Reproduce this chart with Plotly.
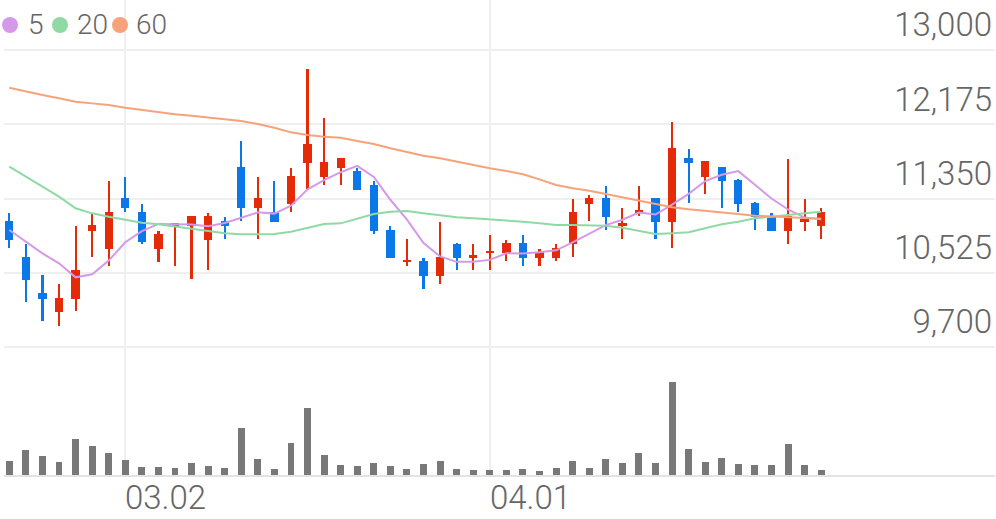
import plotly.graph_objects as go

# ---------------- data ----------------
idx = list(range(50))
open_ = [11100, 10700, 10300, 10090, 10230, 10990, 10790, 11360, 11200, 10790,
         11050, 11050, 10890, 11100, 11700, 11250, 11200, 11290, 11750, 11590,
         11690, 11660, 11500, 11000, 10640, 10660, 10490, 10850, 10690, 10740,
         10750, 10860, 10690, 10690, 10850, 11290, 11360, 11050, 11190, 11360,
         11090, 11800, 11590, 11700, 11560, 11300, 11160, 10990, 11090, 11050]
high = [11190, 10850, 10500, 10400, 11050, 11190, 11550, 11590, 11290, 10990,
        11060, 11160, 11190, 11150, 11990, 11590, 11550, 11690, 12790, 12250,
        11800, 11690, 11550, 11050, 10900, 10690, 11090, 10860, 10850, 10950,
        10890, 10950, 10790, 10850, 11350, 11390, 11490, 11250, 11490, 11360,
        12200, 11900, 11770, 11700, 11570, 11310, 11190, 11790, 11350, 11250]
low = [10800, 10200, 9990, 9930, 10100, 10700, 10600, 11200, 10850, 10650,
       10600, 10460, 10560, 10900, 11100, 10900, 11090, 11200, 11460, 11500,
       11500, 11440, 10960, 10690, 10600, 10350, 10400, 10560, 10560, 10560,
       10660, 10600, 10600, 10660, 10700, 11100, 11000, 10900, 11160, 10900,
       10800, 11300, 11400, 11250, 11200, 11000, 10990, 10850, 10990, 10900]
close = [10890, 10440, 10230, 10250, 10560, 11060, 11200, 11250, 10870, 10960,
         11060, 11160, 11160, 11050, 11250, 11360, 11090, 11600, 11960, 11760,
         11800, 11440, 10990, 10690, 10660, 10490, 10700, 10690, 10700, 10760,
         10860, 10690, 10760, 10800, 11200, 11360, 11150, 11060, 11200, 11090,
         11910, 11750, 11770, 11550, 11290, 11150, 10990, 11160, 11100, 11200]
volume = [140, 253, 190, 130, 360, 293, 220, 150, 77, 77,
          70, 117, 90, 73, 473, 163, 63, 320, 670, 197,
          103, 87, 123, 87, 60, 107, 143, 60, 47, 47,
          47, 57, 40, 70, 137, 73, 160, 120, 223, 123,
          927, 257, 130, 167, 113, 100, 103, 307, 103, 53]
ma5 = [11000, 10870, 10740, 10630, 10474, 10508, 10660, 10864, 10988, 11068,
       11068, 11060, 11042, 11078, 11136, 11196, 11182, 11270, 11452, 11554,
       11642, 11712, 11590, 11336, 11116, 10854, 10706, 10646, 10648, 10668,
       10742, 10740, 10754, 10774, 10862, 10962, 11054, 11114, 11194, 11172,
       11282, 11402, 11544, 11614, 11654, 11502, 11350, 11228, 11138, 11120]
ma20 = [11703, 11592, 11481, 11370, 11241, 11185, 11148, 11111, 11081, 11063,
        11037, 11019, 10992, 10963, 10952, 10952, 10956, 10981, 11026, 11067,
        11074, 11130, 11178, 11203, 11211, 11185, 11163, 11141, 11130, 11119,
        11111, 11092, 11074, 11056, 11056, 11056, 11048, 11026, 10989, 10956,
        10963, 10974, 11019, 11063, 11092, 11130, 11148, 11163, 11185, 11203]
ma60 = [12581, 12537, 12500, 12463, 12426, 12407, 12389, 12359, 12333, 12304,
        12285, 12270, 12252, 12233, 12211, 12178, 12137, 12085, 12056, 12037,
        12026, 11989, 11956, 11908, 11863, 11826, 11797, 11759, 11722, 11686,
        11656, 11619, 11563, 11500, 11463, 11437, 11400, 11363, 11326, 11289,
        11252, 11230, 11215, 11197, 11178, 11159, 11148, 11141, 11133, 11126]
price_ticks = [9700, 10525, 11350, 12175, 13000]
price_tick_text = ["9,700", "10,525", "11,350", "12,175", "13,000"]
date_tick_idx = [7, 29]
date_tick_text = ["03.02", "04.01"]
ma_names = ["5", "20", "60"]

# ---------------- styles ----------------
UP = "#e42a06"
DOWN = "#0a78e8"
MA_COLORS = ["#d699ea", "#8fdaa4", "#f6a27b"]
GRID = "#efefef"
TXT = "#666666"
FONT = "Roboto"

colors = [UP if c >= o else DOWN for o, c in zip(open_, close)]
body_base = [min(o, c) for o, c in zip(open_, close)]
body_h = [max(abs(c - o), 30) for o, c in zip(open_, close)]
wick_h = [h - l for h, l in zip(high, low)]

fig = go.Figure()

# volume (secondary axis)
fig.add_trace(go.Bar(x=idx, y=volume, marker=dict(color="#787878", line_width=0),
                     width=0.42, yaxis="y2", hoverinfo="skip"))
# wicks
fig.add_trace(go.Bar(x=idx, y=wick_h, base=low, width=0.13,
                     marker=dict(color=colors, line_width=0), hoverinfo="skip"))
# bodies
fig.add_trace(go.Bar(x=idx, y=body_h, base=body_base, width=0.5,
                     marker=dict(color=colors, line_width=0), hoverinfo="skip"))
# moving averages
for name, vals, col in zip(ma_names, [ma5, ma20, ma60], MA_COLORS):
    fig.add_trace(go.Scatter(x=idx, y=vals, mode="lines", name=name,
                             line=dict(color=col, width=2), hoverinfo="skip"))

fig.update_layout(
    width=996, height=519,
    margin=dict(l=4, r=1, t=0, b=44),
    paper_bgcolor="white", plot_bgcolor="white",
    showlegend=False, barmode="overlay", bargap=0,
    font=dict(family=FONT, color=TXT),
    xaxis=dict(range=[-0.32, 59.49], tickvals=date_tick_idx, showticklabels=False,
               showgrid=True, gridcolor=GRID, gridwidth=2, zeroline=False,
               showline=True, linecolor="#e3e3e3", linewidth=2, ticks=""),
    yaxis=dict(range=[8277.8, 13555.6], side="right", tickvals=price_ticks,
               ticktext=price_tick_text, ticklabelposition="inside top",
               ticklabelshift=-2, ticklabelstandoff=0,
               tickfont=dict(size=33, color=TXT, family=FONT, weight=300),
               showgrid=True, gridcolor=GRID, gridwidth=2, zeroline=False, ticks=""),
    yaxis2=dict(range=[0, 4750], overlaying="y", visible=False, showgrid=False),
)

# date labels, left-aligned on their gridlines
for xi, t in zip(date_tick_idx, date_tick_text):
    fig.add_annotation(x=xi, xref="x", y=0, yref="paper", text=t, showarrow=False,
                       xanchor="left", yanchor="top", yshift=-1, xshift=-2,
                       font=dict(size=33, color=TXT, family=FONT, weight=300))

# legend (dots + labels)
dot_x = [10, 60, 120]
lab_x = [26, 75, 134]
for name, col, dx, lx in zip(ma_names, MA_COLORS, dot_x, lab_x):
    fig.add_shape(type="circle", xref="paper", yref="paper", xsizemode="pixel",
                  ysizemode="pixel", xanchor=(dx - 4) / 991, yanchor=1 - 25 / 475,
                  x0=-8, x1=8, y0=-8, y1=8, fillcolor=col, line_width=0)
    fig.add_annotation(x=(lx - 4) / 991, xref="paper", y=1 - 25 / 475, yref="paper",
                       text=name, showarrow=False, xanchor="left", yanchor="middle",
                       font=dict(size=28, color=TXT, family=FONT, weight=300))

fig.write_html("out.html", config={"displayModeBar": False},
               post_script="document.body.style.margin='0';")
